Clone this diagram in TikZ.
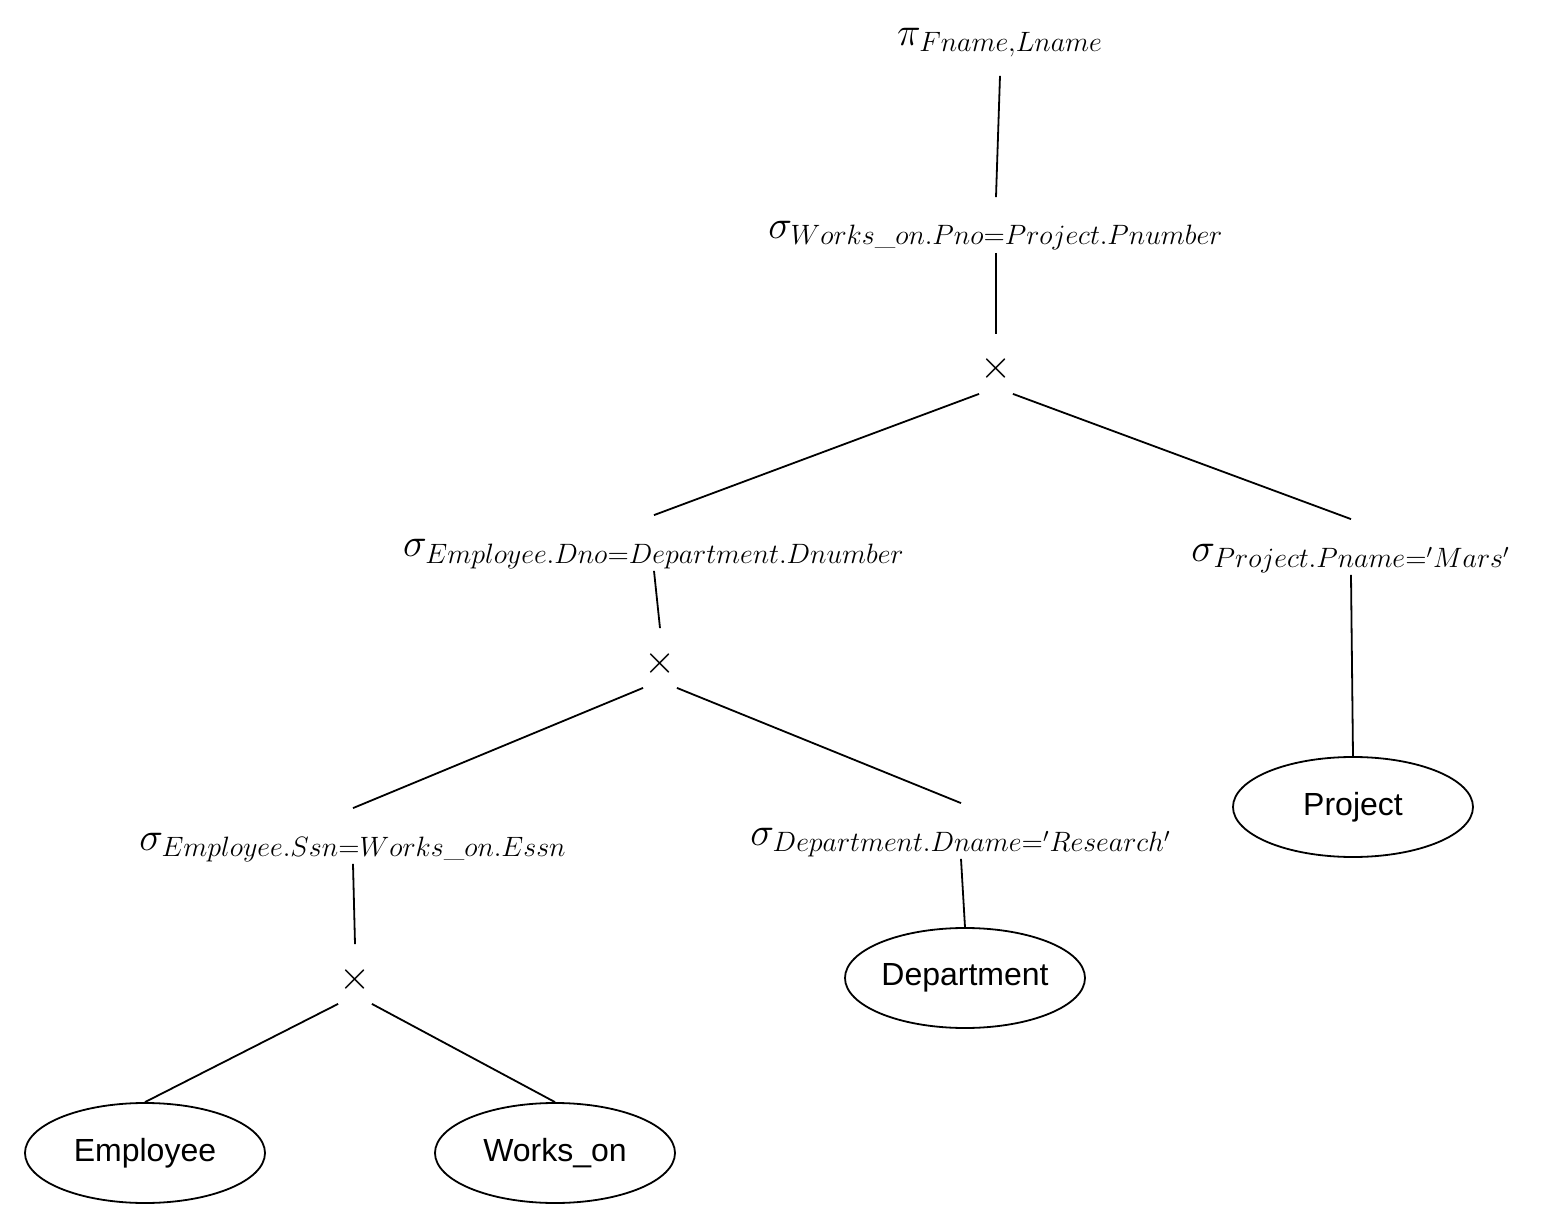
\RequirePackage{fix-cm}
\documentclass[tikz,border=0pt]{standalone}
\usepackage{amsmath}
\usepackage{fontspec}
\setsansfont{Liberation Sans}
\usetikzlibrary{shapes.geometric}
\tikzset{
  op/.style={inner sep=0pt, anchor=base, text height=20.5pt, text depth=6.5pt,
    font=\fontsize{20}{24}\selectfont},
  prod/.style={inner sep=0pt, anchor=base, minimum width=16pt, text height=22pt,
    text depth=7pt, font=\fontsize{20}{24}\selectfont},
  rel/.style={draw, ellipse, minimum width=120pt, minimum height=50pt, inner sep=0pt,
    font=\sffamily\fontsize{16}{19}\selectfont},
}
\newcommand{\us}{\text{\_}}
\begin{document}
\begin{tikzpicture}[x=0.5pt, y=-0.5pt, line width=0.9pt]
    \useasboundingbox (0,0) rectangle (1544,1230);
    \node[op, text height=18pt, text depth=14.5pt] (proj) at (1000,46) {$\pi_{Fname,Lname}$};
    \node[op] (selpno) at (996,239) {$\sigma_{Works\us on.Pno=Project.Pnumber}$};
    \node[prod] (cross1) at (996,379) {$\times$};
    \node[op] (seldno) at (654,557) {$\sigma_{Employee.Dno=Department.Dnumber}$};
    \node[op] (selmars) at (1351,561) {$\sigma_{Project.Pname='Mars'}$};
    \node[prod] (cross2) at (660,673) {$\times$};
    \node[op] (selssn) at (353,850) {$\sigma_{Employee.Ssn=Works\us on.Essn}$};
    \node[op] (selres) at (961,845) {$\sigma_{Department.Dname='Research'}$};
    \node[prod] (cross3) at (355,989) {$\times$};
    % relations
    \node[rel] (emp) at (145,1153) {Employee};
    \node[rel] (works) at (555,1153) {Works\_on};
    \node[rel] (dept) at (965,978) {Department};
    \node[rel] (proje) at (1353,807) {Project};
    \path (proj.south)	edge			(selpno.north)
	  (selpno.south)	edge			(cross1.north)
	  (cross1.south west)	edge			(seldno.north)
	  (cross1.south east)	edge			(selmars.north)
	  (seldno.south)	edge			(cross2.north)
	  (selmars.south)	edge			(proje.north)
	  (cross2.south west)	edge			(selssn.north)
	  (cross2.south east)	edge			(selres.north)
	  (selssn.south)	edge			(cross3.north)
	  (selres.south)	edge			(dept.north)
	  (cross3.south west)	edge			(emp.north)
	  (cross3.south east)	edge			(works.north);
  \end{tikzpicture}
\end{document}
